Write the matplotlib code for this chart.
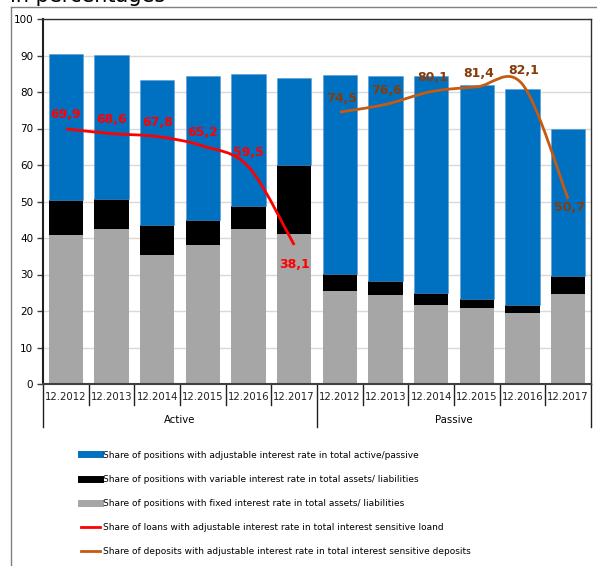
import matplotlib.pyplot as plt
from matplotlib.path import Path
from matplotlib.patches import PathPatch
from matplotlib.lines import Line2D

# categories
years = ["12.2012", "12.2013", "12.2014", "12.2015", "12.2016", "12.2017"]
groups = ["Active", "Passive"]

# stacked bar segments (active 6 + passive 6)
fixed = [40.7, 42.5, 35.4, 38.2, 42.5, 41.0, 25.6, 24.5, 21.6, 20.9, 19.5, 24.7]
variable = [9.8, 8.2, 8.1, 6.8, 6.2, 19.0, 4.6, 3.8, 3.4, 2.3, 2.2, 5.0]
adjustable = [39.8, 39.5, 39.7, 39.4, 36.2, 23.8, 54.5, 56.0, 59.4, 58.8, 59.1, 40.3]

# line series
loans = [69.9, 68.6, 67.8, 65.2, 59.5, 38.1]
deposits = [74.5, 76.6, 80.1, 81.4, 82.1, 50.7]

labels = [
    "Share of positions with adjustable interest rate in total active/passive",
    "Share of positions with variable interest rate in total assets/ liabilities",
    "Share of positions with fixed interest rate in total assets/ liabilities",
    "Share of loans with adjustable interest rate in total interest sensitive loand",
    "Share of deposits with adjustable interest rate in total interest sensitive deposits",
]

c_blue = "#0070C0"
c_black = "#000000"
c_gray = "#A6A6A6"
c_red = "#FF0000"
c_orange = "#C55A11"
c_orange_txt = "#843C0C"

W, H = 597, 566
fig = plt.figure(figsize=(W / 100, H / 100), dpi=100)
ax = fig.add_axes([43 / W, 1 - 384 / H, 548 / W, 365 / H])

x = list(range(12))
bottom2 = [a + b for a, b in zip(fixed, variable)]
ax.bar(x, fixed, width=0.75, color=c_gray, zorder=2)
ax.bar(x, variable, width=0.75, bottom=fixed, color=c_black, zorder=2)
ax.bar(x, adjustable, width=0.75, bottom=bottom2, color=c_blue,
       edgecolor="#5B9BD5", linewidth=0.4, zorder=2)


def smooth_path(xs, ys):
    # Excel-like smoothed line as cubic Bezier segments
    pts = list(zip(xs, ys))
    verts = [pts[0]]
    codes = [Path.MOVETO]
    n = len(pts)
    for i in range(n - 1):
        p0 = pts[i - 1] if i > 0 else pts[i]
        p1 = pts[i]
        p2 = pts[i + 1]
        p3 = pts[i + 2] if i + 2 < n else pts[i + 1]
        c1 = (p1[0] + (p2[0] - p0[0]) / 6, p1[1] + (p2[1] - p0[1]) / 6)
        c2 = (p2[0] - (p3[0] - p1[0]) / 6, p2[1] - (p3[1] - p1[1]) / 6)
        verts += [c1, c2, p2]
        codes += [Path.CURVE4] * 3
    return Path(verts, codes)


ax.add_patch(PathPatch(smooth_path(x[:6], loans), fill=False,
                       edgecolor=c_red, lw=2, zorder=3))
ax.add_patch(PathPatch(smooth_path(x[6:], deposits), fill=False,
                       edgecolor=c_orange, lw=2, zorder=3))

for i, v in enumerate(loans):
    dy = -14 if i == 5 else 10
    ax.annotate(f"{v:.1f}".replace(".", ","), (x[i], v), xytext=(0, dy),
                textcoords="offset points", ha="center", va="center",
                color=c_red, fontsize=9, fontweight="bold", zorder=4)
for i, v in enumerate(deposits):
    dy = -6 if i == 5 else 10
    ax.annotate(f"{v:.1f}".replace(".", ","), (x[6 + i], v), xytext=(1, dy),
                textcoords="offset points", ha="center", va="center",
                color=c_orange_txt, fontsize=9, fontweight="bold", zorder=4)

ax.set_xlim(-0.5, 11.5)
ax.set_ylim(0, 100)
ax.set_yticks(range(0, 101, 10))
ax.tick_params(axis="y", labelsize=7.5, length=4, width=1, color="#404040", pad=3)
ax.set_xticks([])
ax.yaxis.grid(True, color="#D9D9D9", lw=1)
ax.set_axisbelow(True)
ax.spines["left"].set_linewidth(1.5)
ax.spines["left"].set_color("#202020")
ax.spines["bottom"].set_linewidth(1.5)
ax.spines["bottom"].set_color("#404040")
for s in ["top", "right"]:
    ax.spines[s].set_linewidth(1)
    ax.spines[s].set_color("#303030")

# two-level category axis
tr = ax.get_xaxis_transform()
for i in range(12):
    ax.text(x[i], -0.036, years[i % 6], transform=tr, ha="center", va="center",
            fontsize=7.3, color="#202020")
for k in range(13):
    xb = k - 0.5
    y1 = -0.118 if k in (0, 6, 12) else -0.058
    ax.plot([xb, xb], [0, y1], transform=tr, color="#202020", lw=1, clip_on=False)
ax.text(2.5, -0.099, groups[0], transform=tr, ha="center", va="center", fontsize=7.3)
ax.text(8.5, -0.099, groups[1], transform=tr, ha="center", va="center", fontsize=7.3)

# outer chart frame and cut title
fig.add_artist(Line2D([10.5 / W, 1], [1 - 7 / H, 1 - 7 / H], color="#808080", lw=1))
fig.add_artist(Line2D([10.5 / W, 10.5 / W], [0, 1 - 7 / H], color="#808080", lw=1))
fig.text(10 / W, 1 - 2 / H, "in percentages", fontsize=15, va="baseline", ha="left")

handles = [
    Line2D([], [], color=c_blue, lw=5),
    Line2D([], [], color=c_black, lw=5),
    Line2D([], [], color=c_gray, lw=5),
    Line2D([], [], color=c_red, lw=2),
    Line2D([], [], color=c_orange, lw=2),
]
fig.legend(handles, labels, loc="upper left", bbox_to_anchor=(77 / W, 1 - 447 / H),
           frameon=False, fontsize=6.5, handlelength=2.2, handletextpad=0.3,
           labelspacing=1.68, borderaxespad=0)

fig.savefig("out.png", dpi=100)
